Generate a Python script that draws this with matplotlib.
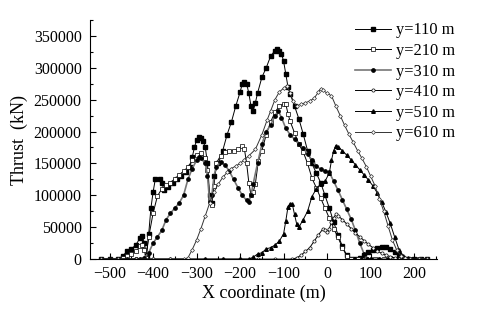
import matplotlib
matplotlib.use("Agg")
import matplotlib.pyplot as plt
from matplotlib.ticker import MultipleLocator

plt.rcParams['font.family'] = ['Liberation Serif', 'DejaVu Serif']

# y = 110 m (filled squares)
x110 = [-520, -500, -480, -470, -460, -450, -440, -430, -425, -420, -415,
        -410, -405, -400, -395, -385, -380, -375, -365, -355, -345, -335,
        -325, -315, -310, -305, -300, -295, -290, -285, -280, -275, -270,
        -265, -260, -250, -240, -230, -220, -210, -200, -195, -190, -185,
        -180, -175, -170, -165, -160, -150, -140, -130, -120, -115, -110,
        -105, -100, -95, -90, -85, -75, -65, -55, -45, -35, -25, -15, -5,
        5, 15, 25, 35, 45, 55, 65, 75, 85, 95, 105, 115, 125, 135, 145, 155,
        165, 175, 185, 200, 215, 230]
t110 = [0, 0, 0, 5000, 12000, 16000, 22000, 33000, 37000, 25000, 5000,
        40000, 80000, 105000, 125000, 125000, 120000, 108000, 113000, 120000,
        125000, 130000, 137000, 145000, 160000, 175000, 187000, 191000,
        190000, 185000, 175000, 150000, 100000, 88000, 130000, 150000,
        170000, 195000, 215000, 240000, 262000, 275000, 278000, 275000,
        260000, 240000, 232000, 245000, 260000, 285000, 300000, 318000,
        327000, 330000, 327000, 322000, 310000, 290000, 270000, 259000,
        240000, 220000, 196000, 170000, 150000, 135000, 120000, 100000,
        80000, 58000, 38000, 20000, 6000, 0, 0, 2000, 6000, 11000, 15000,
        18000, 19500, 19000, 16000, 11000, 6000, 2000, 0, 0, 0, 0]

# y = 210 m (open squares)
x210 = [-520, -500, -480, -470, -460, -450, -440, -430, -425, -420, -417,
        -410, -400, -390, -380, -370, -360, -350, -340, -330, -320, -310,
        -300, -290, -280, -275, -270, -265, -260, -255, -245, -235, -225,
        -215, -205, -195, -190, -185, -180, -175, -170, -165, -158, -150,
        -140, -130, -120, -110, -100, -95, -90, -85, -75, -65, -55, -45,
        -35, -25, -15, -5, 5, 15, 25, 35, 45, 55, 70, 90, 110, 130, 150,
        170, 190, 210, 230]
t210 = [0, 0, 0, 2000, 5000, 8000, 12000, 20000, 22000, 15000, 2000,
        35000, 72000, 99000, 110000, 116000, 120000, 126000, 132000, 138000,
        144000, 155000, 163000, 166000, 158000, 140000, 95000, 85000,
        115000, 150000, 162000, 168000, 170000, 170000, 172000, 178000,
        172000, 150000, 120000, 100000, 105000, 118000, 154000, 170000,
        195000, 215000, 230000, 240000, 243000, 243000, 228000, 216000,
        198000, 180000, 168000, 150000, 127000, 112000, 96000, 80000, 64000,
        48000, 34000, 18000, 5000, 0, 0, 0, 0, 0, 0, 0, 0, 0, 0]

# y = 310 m (filled circles)
x310 = [-520, -500, -480, -460, -440, -430, -420, -410, -400, -390, -380,
        -370, -360, -350, -340, -330, -320, -310, -300, -295, -290, -280,
        -275, -270, -265, -260, -255, -245, -235, -225, -215, -205, -195,
        -185, -180, -175, -170, -160, -150, -140, -130, -120, -112, -105,
        -95, -85, -75, -65, -55, -45, -35, -25, -15, -5, 5, 15, 25, 35, 45,
        55, 65, 75, 85, 92, 100, 120, 140, 160, 180, 200, 230]
t310 = [0, 0, 0, 0, 0, 0, 2000, 10000, 25000, 35000, 45000, 62000, 72000,
        80000, 88000, 100000, 125000, 142000, 155000, 160000, 158000,
        150000, 130000, 90000, 100000, 130000, 145000, 152000, 148000,
        138000, 125000, 112000, 100000, 92000, 90000, 100000, 118000,
        150000, 180000, 200000, 210000, 225000, 232000, 222000, 205000,
        195000, 188000, 180000, 174000, 165000, 155000, 146000, 141000,
        138000, 136000, 122000, 108000, 93000, 78000, 63000, 45000, 25000,
        8000, 0, 0, 0, 0, 0, 0, 0, 0]

# y = 410 m (open circles)
x410 = [-520, -480, -440, -400, -360, -320, -280, -240, -200, -160, -120,
        -80, -70, -60, -50, -40, -30, -20, -10, -5, 0, 5, 10, 15, 20, 25,
        35, 45, 55, 65, 75, 85, 95, 105, 115, 125, 135, 145, 155, 165, 175,
        190, 210, 230]
t410 = [0, 0, 0, 0, 0, 0, 0, 0, 0, 0, 0, 0, 2000, 6000, 12000, 18000, 28000,
        38000, 47000, 45000, 42000, 48000, 58000, 65000, 70000, 68000,
        62000, 55000, 48000, 41000, 35000, 29000, 23000, 18000, 13000, 9000,
        6000, 4000, 2000, 500, 0, 0, 0, 0]

# y = 510 m (filled triangles)
x510 = [-520, -480, -440, -400, -360, -320, -280, -240, -200, -180, -170,
        -160, -150, -140, -130, -120, -110, -100, -95, -90, -85, -80, -75,
        -70, -65, -55, -45, -35, -25, -15, -5, 5, 10, 15, 20, 25, 35, 45,
        55, 65, 75, 85, 95, 105, 115, 125, 135, 145, 155, 165, 175, 185,
        195, 210, 230]
t510 = [0, 0, 0, 0, 0, 0, 0, 0, 0, 0, 3000, 8000, 10000, 16000, 18000,
        22000, 28000, 40000, 60000, 82000, 87000, 86000, 70000, 55000,
        50000, 62000, 75000, 98000, 110000, 118000, 122000, 135000, 155000,
        170000, 178000, 176000, 170000, 163000, 156000, 148000, 140000,
        132000, 124000, 115000, 104000, 90000, 74000, 56000, 35000, 15000,
        5000, 1000, 0, 0, 0]

# y = 610 m (open diamonds)
x610 = [-520, -480, -440, -400, -360, -330, -320, -310, -300, -290, -280,
        -270, -260, -250, -240, -230, -220, -210, -200, -190, -180, -165,
        -150, -138, -130, -120, -110, -100, -92, -85, -78, -70, -60, -50,
        -40, -30, -20, -15, -10, 0, 10, 20, 30, 40, 50, 60, 70, 80, 90, 100,
        110, 120, 130, 140, 150, 160, 170, 180, 190, 210, 230]
t610 = [0, 0, 0, 0, 0, 0, 2000, 15000, 30000, 48000, 68000, 88000, 105000,
        118000, 128000, 136000, 142000, 146000, 150000, 156000, 162000,
        172000, 195000, 218000, 232000, 250000, 262000, 268000, 271000,
        260000, 248000, 240000, 243000, 245000, 248000, 252000, 262000,
        267000, 265000, 260000, 256000, 240000, 225000, 210000, 196000,
        183000, 170000, 158000, 145000, 130000, 115000, 95000, 75000, 52000,
        30000, 14000, 5000, 1000, 0, 0, 0]

fig = plt.figure(figsize=(4.8, 3.16), dpi=100)
ax = fig.add_axes([0.1875, 0.18, 0.7225, 0.757])

ax.plot(x110, t110, color='black', lw=0.7, marker='s', ms=2.2, mfc='black', label='y=110 m')
ax.plot(x210, t210, color='black', lw=0.7, marker='s', ms=2.3, mfc='white', mew=0.5, label='y=210 m')
ax.plot(x310, t310, color='#777777', lw=1.2, marker='o', ms=2.4, mfc='black', mec='black', label='y=310 m')
ax.plot(x410, t410, color='black', lw=0.7, marker='o', ms=2.3, mfc='white', mew=0.5, label='y=410 m')
ax.plot(x510, t510, color='black', lw=0.7, marker='^', ms=2.6, mfc='black', label='y=510 m')
ax.plot(x610, t610, color='#333333', lw=0.7, marker='D', ms=2.0, mfc='white', mew=0.5, label='y=610 m')

ax.set_xlim(-545, 252)
ax.set_ylim(0, 375000)
ax.xaxis.set_major_locator(MultipleLocator(100))
ax.xaxis.set_minor_locator(MultipleLocator(50))
ax.yaxis.set_major_locator(MultipleLocator(50000))
ax.yaxis.set_minor_locator(MultipleLocator(25000))
ax.tick_params(which='both', direction='in', labelsize=11.5, width=0.8)
ax.tick_params(which='major', length=4)
ax.tick_params(which='minor', length=2)
ax.tick_params(axis='y', pad=6)
ax.tick_params(axis='x', pad=5)

ax.spines['top'].set_visible(False)
ax.spines['right'].set_visible(False)

ax.set_xlabel('X coordinate (m)', fontsize=13, labelpad=2)
ax.set_ylabel('Thrust  (kN)', fontsize=13, labelpad=4)

fig.legend(loc='upper left', bbox_to_anchor=(0.722, 0.955), frameon=False,
           fontsize=11.8, handlelength=2.2, handletextpad=0.3, labelspacing=0.28,
           borderpad=0)

fig.savefig('out.png', dpi=100)
